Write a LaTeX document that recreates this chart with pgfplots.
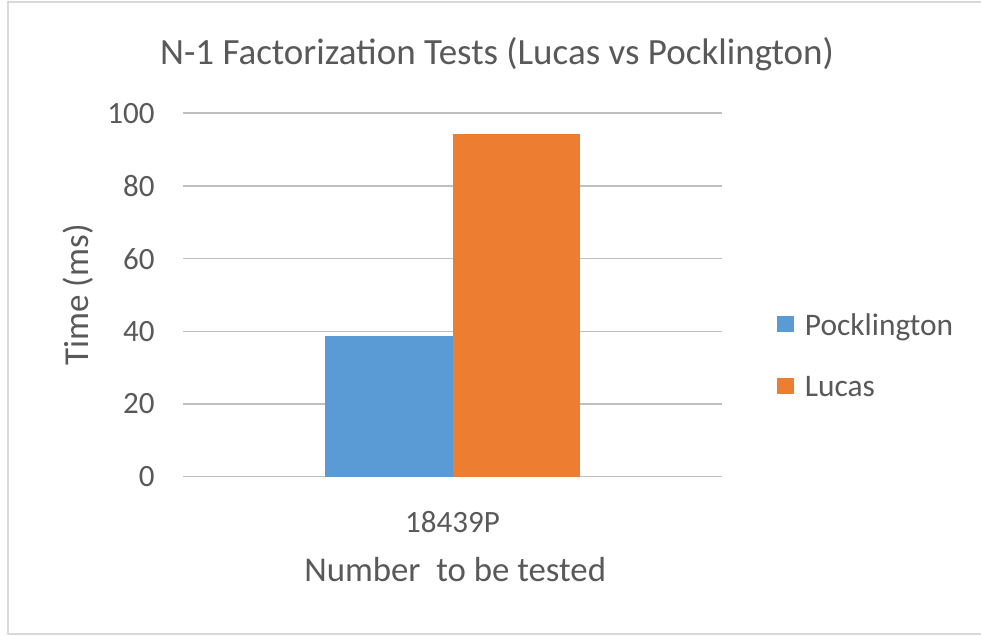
\documentclass[border=0pt]{standalone}
\usepackage{pgfplots}
\pgfplotsset{compat=1.18}
\usepackage{fontspec}
\setmainfont{Carlito}
\definecolor{txt}{HTML}{595959}
\definecolor{grid}{HTML}{D9D9D9}
\definecolor{cblue}{HTML}{5B9BD5}
\definecolor{corange}{HTML}{ED7D31}
\definecolor{frame}{HTML}{D9D9D9}
\begin{document}
\begin{tikzpicture}
\useasboundingbox (0,0) rectangle (490.5pt,318pt);
\fill[white] (0,0) rectangle (490.5pt,318pt);
\draw[frame,line width=1pt] (4pt,1pt) rectangle (492pt,317pt);
\begin{axis}[
  at={(91.5pt,79.65pt)}, anchor=south west,
  scale only axis,
  width=269.5pt, height=181.7pt,
  xmin=-0.5, xmax=0.5,
  ymin=0, ymax=100,
  ytick={0,20,40,60,80,100},
  xtick={0}, xticklabels={18439P},
  ybar=0pt, bar width=63.75pt,
  axis line style={draw=none},
  major tick length=0pt, tick style={draw=none},
  xmajorgrids=false,
  ymajorgrids, grid style={grid, line width=0.8pt},
  /pgf/number format/assume math mode=true,
  tick label style={font=\fontsize{15.5}{18}\selectfont, text=txt},
  yticklabel style={anchor=east, inner sep=0pt, xshift=-14pt},
  xticklabel style={anchor=center, inner sep=0pt, yshift=-22.5pt},
  title={N-1 Factorization Tests (Lucas vs Pocklington)},
  title style={at={(rel axis cs:0.5826,1.130)}, anchor=center, inner sep=0pt, font=\fontsize{18.5}{22}\selectfont, text=txt},
  ylabel={Time (ms)},
  ylabel style={at={(rel axis cs:-0.1948,0.5)}, anchor=center, rotate=0, inner sep=0pt, font=\fontsize{17.5}{21}\selectfont, text=txt},
  xlabel={Number\ \ to be tested},
  xlabel style={at={(rel axis cs:0.505,-0.2567)}, anchor=center, inner sep=0pt, font=\fontsize{17.4}{21}\selectfont, text=txt},
  legend style={at={(rel axis cs:1.102,0.335)}, anchor=west, draw=none, fill=none,
    inner sep=0pt, outer sep=0pt, row sep=20.5pt,
    font=\fontsize{15.7}{18}\selectfont, text=txt,
    nodes={inner sep=0pt, text depth=0pt}},
  legend image code/.code={\fill[#1] (0pt,-4pt) rectangle (8.5pt,4pt); \path (14pt,0pt);},
  legend cell align=left,
]
\addplot[fill=cblue, draw=none] coordinates {(0,38.8)};
\addplot[fill=corange, draw=none] coordinates {(0,94.2)};
\legend{Pocklington, Lucas}
\end{axis}
\end{tikzpicture}
\end{document}
